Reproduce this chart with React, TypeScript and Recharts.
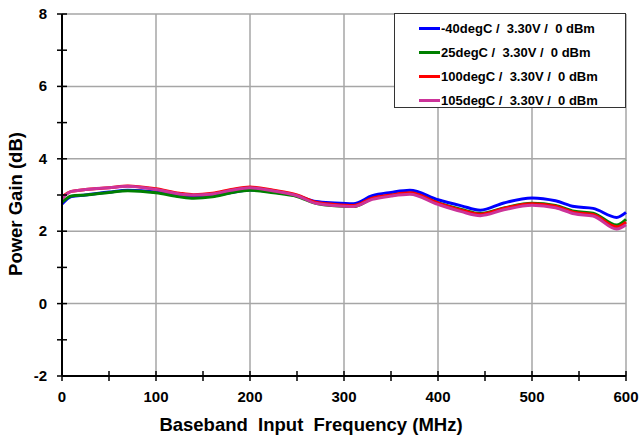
import React from 'react';
import { LineChart, Line, XAxis, YAxis, ReferenceLine } from 'recharts';

const freqs = [0, 10, 25, 50, 70, 100, 125, 140, 160, 180, 200, 225, 250, 270, 290, 310, 330, 350, 370, 400, 425, 445, 470, 500, 525, 545, 565, 590, 600];

const gainM40 = [2.75, 2.96, 3.0, 3.08, 3.13, 3.08, 2.97, 2.93, 2.97, 3.07, 3.14, 3.08, 2.98, 2.82, 2.78, 2.76, 2.98, 3.07, 3.13, 2.87, 2.7, 2.58, 2.78, 2.92, 2.84, 2.68, 2.63, 2.38, 2.52];
const gain25 = [2.8, 2.97, 3.0, 3.07, 3.12, 3.06, 2.95, 2.91, 2.95, 3.06, 3.13, 3.06, 2.96, 2.77, 2.7, 2.68, 2.9, 2.99, 3.05, 2.78, 2.6, 2.49, 2.64, 2.77, 2.71, 2.55, 2.5, 2.17, 2.33];
const gain100 = [2.95, 3.1, 3.15, 3.2, 3.25, 3.17, 3.05, 3.01, 3.05, 3.15, 3.22, 3.13, 3.0, 2.8, 2.74, 2.71, 2.91, 3.0, 3.06, 2.78, 2.58, 2.47, 2.63, 2.76, 2.69, 2.52, 2.46, 2.12, 2.25];
const gain105 = [2.9, 3.1, 3.15, 3.2, 3.24, 3.15, 3.03, 3.0, 3.03, 3.13, 3.2, 3.11, 2.98, 2.77, 2.71, 2.68, 2.88, 2.97, 3.02, 2.74, 2.54, 2.43, 2.59, 2.72, 2.65, 2.48, 2.42, 2.06, 2.18];

const xTicks = [0, 50, 100, 150, 200, 250, 300, 350, 400, 450, 500, 550, 600];
const yTicks = [-2, -1, 0, 1, 2, 3, 4, 5, 6, 7, 8];
const gridX = [100, 200, 300, 400, 500, 600];
const gridY = [0, 2, 4, 6, 8];

const series = [
  { key: 'm40', name: '-40degC /  3.30V /  0 dBm', color: '#0000FF', values: gainM40 },
  { key: 't25', name: '25degC /  3.30V /  0 dBm', color: '#008000', values: gain25 },
  { key: 't100', name: '100degC /  3.30V /  0 dBm', color: '#FF0000', values: gain100 },
  { key: 't105', name: '105degC /  3.30V /  0 dBm', color: '#CC3399', values: gain105 },
];

const data = freqs.map((f, i) => {
  const row: { [k: string]: number } = { freq: f };
  series.forEach((s) => { row[s.key] = s.values[i]; });
  return row;
});

const FONT = '"Liberation Sans", Arial, sans-serif';

const XTick = (props: any) => {
  const { x, y, payload } = props;
  const major = payload.value % 100 === 0;
  return (
    <g>
      <line x1={x} x2={x} y1={y - 5} y2={y + 5} stroke="#000" strokeWidth={1.5} />
      {major && (
        <text x={x} y={y + 26} textAnchor="middle" fontFamily={FONT} fontWeight="bold" fontSize={15} fill="#000">
          {payload.value}
        </text>
      )}
    </g>
  );
};

const YTick = (props: any) => {
  const { x, y, payload } = props;
  const major = payload.value % 2 === 0;
  return (
    <g>
      <line x1={x - 5} x2={x + 5} y1={y} y2={y} stroke="#000" strokeWidth={1.5} />
      {major && (
        <text x={x - 15} y={y + 5} textAnchor="end" fontFamily={FONT} fontWeight="bold" fontSize={15} fill="#000">
          {payload.value}
        </text>
      )}
    </g>
  );
};

const XTitle = () => (
  <text x={311} y={431} textAnchor="middle" fontFamily={FONT} fontWeight="bold" fontSize={18.5} fill="#000" style={{ whiteSpace: 'pre' }}>
    Baseband  Input  Frequency (MHz)
  </text>
);

const YTitle = () => (
  <text x={22} y={204} transform="rotate(-90 22 204)" textAnchor="middle" fontFamily={FONT} fontWeight="bold" fontSize={18.5} fill="#000">
    Power Gain (dB)
  </text>
);

const LegendBox = () => (
  <div
    style={{
      position: 'absolute',
      left: 394,
      top: 13,
      width: 232,
      height: 95,
      border: '1px solid #333',
      background: '#fff',
      boxSizing: 'border-box',
      paddingTop: 2,
    }}
  >
    {series.map((s) => (
      <div key={s.key} style={{ display: 'flex', alignItems: 'center', height: 24, paddingLeft: 24 }}>
        <div style={{ width: 21, height: 3, background: s.color, marginRight: 1 }} />
        <span style={{ fontFamily: FONT, fontWeight: 'bold', fontSize: 13, whiteSpace: 'pre', color: '#000' }}>
          {s.name}
        </span>
      </div>
    ))}
  </div>
);

export default function App() {
  return (
    <div style={{ position: 'absolute', left: 0, top: 0, width: 640, height: 438, background: '#fff' }}>
      <LineChart width={640} height={438} data={data} margin={{ top: 14, right: 14, bottom: 0, left: 0 }}>
        {gridX.map((v) => (
          <ReferenceLine key={'gx' + v} x={v} stroke="#A6A6A6" strokeWidth={1.5} />
        ))}
        {gridY.map((v) => (
          <ReferenceLine key={'gy' + v} y={v} stroke="#A6A6A6" strokeWidth={1.5} />
        ))}
        <XAxis
          dataKey="freq"
          type="number"
          domain={[0, 600]}
          ticks={xTicks}
          interval={0}
          height={62}
          tickSize={0}
          tickMargin={0}
          tick={<XTick />}
          axisLine={{ stroke: '#000', strokeWidth: 2 }}
          label={<XTitle />}
        />
        <YAxis
          type="number"
          domain={[-2, 8]}
          ticks={yTicks}
          interval={0}
          width={62}
          tickSize={0}
          tickMargin={0}
          tick={<YTick />}
          axisLine={{ stroke: '#000', strokeWidth: 2 }}
          label={<YTitle />}
        />
        {series.map((s) => (
          <Line
            key={s.key}
            dataKey={s.key}
            name={s.name}
            type="monotone"
            stroke={s.color}
            strokeWidth={3}
            dot={false}
            isAnimationActive={false}
          />
        ))}
      </LineChart>
      <LegendBox />
    </div>
  );
}
